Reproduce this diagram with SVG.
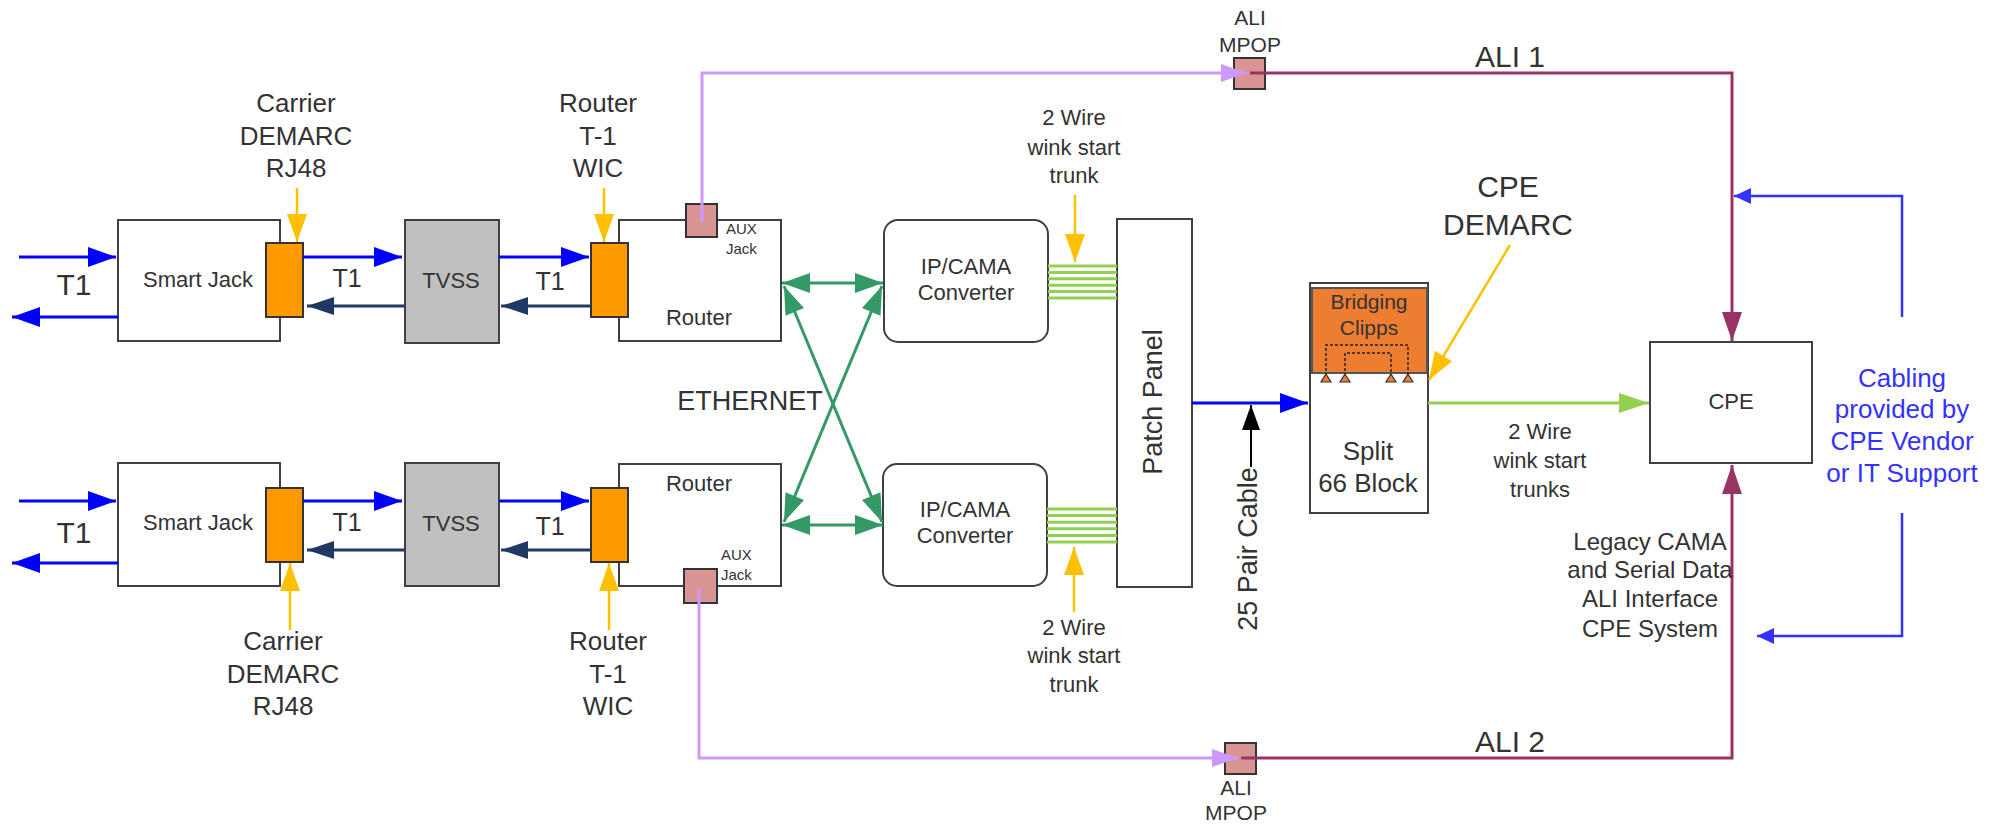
<svg xmlns="http://www.w3.org/2000/svg" width="1999" height="826" viewBox="0 0 1999 826">
<style>
text { font-family: "Liberation Sans", Arial, sans-serif; fill: #333; text-anchor: middle; }
.box { fill: #fff; stroke: #404040; stroke-width: 2; }
.org { fill: #FF9900; stroke: #333; stroke-width: 2; }
.jack { fill: #D99594; stroke: #333; stroke-width: 2; }
.tvss { fill: #C0C0C0; stroke: #404040; stroke-width: 2; }
.conv { fill: #fff; stroke: #404040; stroke-width: 2; }
.blue { stroke: #0000FF; stroke-width: 3; fill: none; marker-end: url(#mBlue); }
.navy { stroke: #1F3864; stroke-width: 3; fill: none; marker-end: url(#mNavy); }
.yel { stroke: #FFC000; stroke-width: 2.5; fill: none; marker-end: url(#mYel); }
.eth { stroke: #339966; stroke-width: 3; fill: none; marker-start: url(#mGrn); marker-end: url(#mGrn); }
.trunk { stroke: #92D050; stroke-width: 3; }
.lav { stroke: #CC99FF; stroke-width: 3; fill: none; marker-end: url(#mLav); }
.mar { stroke: #993366; stroke-width: 3; fill: none; marker-end: url(#mMar); }
.cab { stroke: #3333FF; stroke-width: 2.5; fill: none; marker-end: url(#mCab); }
.lg { stroke: #92D050; stroke-width: 3; fill: none; marker-end: url(#mLg); }
.blk { stroke: #000; stroke-width: 2; fill: none; marker-end: url(#mBlk); }
.s22 { font-size: 22px; }
.s26 { font-size: 26px; }
.s30 { font-size: 30px; }
.aux { font-size: 15px; text-anchor: start; }
.bluetxt { fill: #3333FF; font-size: 26px; }
</style>
<defs>
<marker id="mBlue" markerUnits="userSpaceOnUse" markerWidth="28" markerHeight="20" refX="28" refY="10" orient="auto" overflow="visible"><path d="M0,0 L28,10 L0,20 z" fill="#0000FF"/></marker>
<marker id="mNavy" markerUnits="userSpaceOnUse" markerWidth="27" markerHeight="18" refX="27" refY="9" orient="auto" overflow="visible"><path d="M0,0 L27,9 L0,18 z" fill="#1F3864"/></marker>
<marker id="mYel" markerUnits="userSpaceOnUse" markerWidth="28" markerHeight="20" refX="28" refY="10" orient="auto" overflow="visible"><path d="M0,0 L28,10 L0,20 z" fill="#FFC000"/></marker>
<marker id="mGrn" markerUnits="userSpaceOnUse" markerWidth="28" markerHeight="20" refX="28" refY="10" orient="auto-start-reverse" overflow="visible"><path d="M0,0 L28,10 L0,20 z" fill="#339966"/></marker>
<marker id="mLav" markerUnits="userSpaceOnUse" markerWidth="26" markerHeight="18" refX="26" refY="9" orient="auto" overflow="visible"><path d="M0,0 L26,9 L0,18 z" fill="#CC99FF"/></marker>
<marker id="mMar" markerUnits="userSpaceOnUse" markerWidth="29" markerHeight="20" refX="29" refY="10" orient="auto" overflow="visible"><path d="M0,0 L29,10 L0,20 z" fill="#993366"/></marker>
<marker id="mCab" markerUnits="userSpaceOnUse" markerWidth="17" markerHeight="16" refX="17" refY="8" orient="auto" overflow="visible"><path d="M0,0 L17,8 L0,16 z" fill="#3333FF"/></marker>
<marker id="mLg" markerUnits="userSpaceOnUse" markerWidth="30" markerHeight="20" refX="30" refY="10" orient="auto" overflow="visible"><path d="M0,0 L30,10 L0,20 z" fill="#92D050"/></marker>
<marker id="mBlk" markerUnits="userSpaceOnUse" markerWidth="25" markerHeight="18" refX="25" refY="9" orient="auto" overflow="visible"><path d="M0,0 L25,9 L0,18 z" fill="#000"/></marker>
</defs>
<rect width="1999" height="826" fill="#fff"/>

<!-- Row A nodes -->
<g id="smartjack-a"><rect class="box" x="118" y="220" width="162" height="121"/><text class="s22" x="198" y="287">Smart Jack</text></g>
<g id="demarc-a"><rect class="org" x="266" y="243" width="37" height="74"/></g>
<g id="tvss-a"><rect class="tvss" x="405" y="220" width="94" height="123"/><text class="s22" x="451" y="288">TVSS</text></g>
<g id="router-a"><rect class="box" x="619" y="220" width="162" height="121"/><text class="s22" x="699" y="325">Router</text></g>
<g id="wic-a"><rect class="org" x="591" y="243" width="37" height="74"/></g>
<g id="aux-a"><rect class="jack" x="686" y="204" width="31" height="33"/><text class="aux" x="726" y="234">AUX</text><text class="aux" x="726" y="254">Jack</text></g>

<!-- Row B nodes -->
<g id="smartjack-b"><rect class="box" x="118" y="463" width="162" height="123"/><text class="s22" x="198" y="530">Smart Jack</text></g>
<g id="demarc-b"><rect class="org" x="266" y="488" width="37" height="74"/></g>
<g id="tvss-b"><rect class="tvss" x="405" y="463" width="94" height="123"/><text class="s22" x="451" y="531">TVSS</text></g>
<g id="router-b"><rect class="box" x="619" y="464" width="162" height="122"/><text class="s22" x="699" y="491">Router</text></g>
<g id="wic-b"><rect class="org" x="591" y="488" width="37" height="74"/></g>
<g id="aux-b"><rect class="jack" x="684" y="569" width="33" height="34"/><text class="aux" x="721" y="560">AUX</text><text class="aux" x="721" y="580">Jack</text></g>

<!-- Converters, patch panel -->
<g id="conv-a"><rect class="conv" x="884" y="220" width="164" height="122" rx="14"/><text class="s22" x="966" y="274">IP/CAMA</text><text class="s22" x="966" y="300">Converter</text></g>
<g id="conv-b"><rect class="conv" x="883" y="464" width="164" height="122" rx="14"/><text class="s22" x="965" y="517">IP/CAMA</text><text class="s22" x="965" y="543">Converter</text></g>
<g id="patch"><rect class="box" x="1117" y="219" width="75" height="368"/><text font-size="27" transform="rotate(-90 1162 402)" x="1162" y="402">Patch Panel</text></g>

<!-- MPOPs -->
<g id="mpop-a"><rect class="jack" x="1234" y="58" width="31" height="31"/><text font-size="21" x="1250" y="25">ALI</text><text font-size="21" x="1250" y="52">MPOP</text></g>
<g id="mpop-b"><rect class="jack" x="1225" y="743" width="31" height="31"/><text font-size="21" x="1236" y="795">ALI</text><text font-size="21" x="1236" y="820">MPOP</text></g>

<!-- Split 66 block -->
<g id="split66">
<rect class="box" x="1310" y="283" width="118" height="230"/>
<rect x="1312" y="288" width="115" height="85" fill="#ED7D31" stroke="#555" stroke-width="2"/>
<text font-size="21" x="1369" y="309">Bridging</text><text font-size="21" x="1369" y="335">Clipps</text>
<path d="M1326,376 V345 H1408 V376 M1345,376 V353 H1391 V376" fill="none" stroke="#222" stroke-width="1.5" stroke-dasharray="3 2"/>
<g fill="#ED7D31" stroke="#333" stroke-width="1.2"><path d="M1326,374 L1331,382 L1321,382 z"/><path d="M1345,374 L1350,382 L1340,382 z"/><path d="M1391,374 L1396,382 L1386,382 z"/><path d="M1408,374 L1413,382 L1403,382 z"/></g>
<text class="s26" x="1368" y="460">Split</text><text class="s26" x="1368" y="492">66 Block</text>
</g>

<g id="cpe"><rect class="box" x="1650" y="342" width="162" height="121"/><text class="s22" x="1731" y="409">CPE</text></g>

<!-- Connectors -->
<g id="connectors">
<line class="blue" x1="19" y1="257" x2="116" y2="257"/>
<line class="blue" x1="118" y1="317" x2="12" y2="317"/>
<line class="blue" x1="303" y1="257" x2="402" y2="257"/>
<line class="navy" x1="405" y1="306" x2="307" y2="306"/>
<line class="blue" x1="499" y1="257" x2="589" y2="257"/>
<line class="navy" x1="591" y1="306" x2="501" y2="306"/>
<line class="yel" x1="297" y1="188" x2="297" y2="242"/>
<line class="yel" x1="604" y1="188" x2="604" y2="242"/>

<line class="blue" x1="19" y1="501" x2="116" y2="501"/>
<line class="blue" x1="118" y1="563" x2="12" y2="563"/>
<line class="blue" x1="303" y1="501" x2="402" y2="501"/>
<line class="navy" x1="405" y1="550" x2="307" y2="550"/>
<line class="blue" x1="499" y1="501" x2="589" y2="501"/>
<line class="navy" x1="591" y1="550" x2="501" y2="550"/>
<line class="yel" x1="290" y1="630" x2="290" y2="563"/>
<line class="yel" x1="609" y1="630" x2="609" y2="563"/>

<line class="eth" x1="782" y1="283" x2="883" y2="283"/>
<line class="eth" x1="782" y1="525" x2="883" y2="525"/>
<line class="eth" x1="784" y1="286" x2="882" y2="522"/>
<line class="eth" x1="882" y1="286" x2="784" y2="522"/>

<g class="trunk">
<line x1="1048" y1="266" x2="1117" y2="266"/><line x1="1048" y1="272.4" x2="1117" y2="272.4"/><line x1="1048" y1="278.8" x2="1117" y2="278.8"/><line x1="1048" y1="285.2" x2="1117" y2="285.2"/><line x1="1048" y1="291.6" x2="1117" y2="291.6"/><line x1="1048" y1="298" x2="1117" y2="298"/>
<line x1="1047" y1="509" x2="1117" y2="509"/><line x1="1047" y1="515.6" x2="1117" y2="515.6"/><line x1="1047" y1="522.2" x2="1117" y2="522.2"/><line x1="1047" y1="528.8" x2="1117" y2="528.8"/><line x1="1047" y1="535.4" x2="1117" y2="535.4"/><line x1="1047" y1="542" x2="1117" y2="542"/>
</g>
<line class="yel" x1="1075" y1="195" x2="1075" y2="262"/>
<line class="yel" x1="1074" y1="612" x2="1074" y2="547"/>

<line class="blue" x1="1192" y1="403" x2="1308" y2="403"/>
<line class="blk" x1="1251" y1="467" x2="1251" y2="405"/>

<path class="lav" d="M702,222 V73 H1247"/>
<path class="lav" d="M699,588 V758 H1238"/>
<path class="mar" d="M1250,73 H1732 V341"/>
<path class="mar" d="M1241,758 H1732 V465"/>

<line class="yel" x1="1510" y1="245" x2="1429" y2="380"/>
<line class="lg" x1="1428" y1="403" x2="1649" y2="403"/>
<path class="cab" d="M1902,317 V196 H1734"/>
<path class="cab" d="M1902,513 V636 H1757"/>
</g>

<!-- Labels -->
<g id="labels">
<text class="s30" x="74" y="295">T1</text>
<text class="s30" x="74" y="543">T1</text>
<text font-size="25" x="347" y="287">T1</text>
<text font-size="25" x="550" y="290">T1</text>
<text font-size="25" x="347" y="531">T1</text>
<text font-size="25" x="550" y="535">T1</text>
<text class="s26" x="296" y="112">Carrier</text><text class="s26" x="296" y="145">DEMARC</text><text class="s26" x="296" y="177">RJ48</text>
<text class="s26" x="598" y="112">Router</text><text class="s26" x="598" y="145">T-1</text><text class="s26" x="598" y="177">WIC</text>
<text class="s26" x="283" y="650">Carrier</text><text class="s26" x="283" y="683">DEMARC</text><text class="s26" x="283" y="715">RJ48</text>
<text class="s26" x="608" y="650">Router</text><text class="s26" x="608" y="683">T-1</text><text class="s26" x="608" y="715">WIC</text>
<text font-size="27" x="750" y="410">ETHERNET</text>
<text class="s22" x="1074" y="125">2 Wire</text><text class="s22" x="1074" y="155">wink start</text><text class="s22" x="1074" y="183">trunk</text>
<text class="s22" x="1074" y="635">2 Wire</text><text class="s22" x="1074" y="663">wink start</text><text class="s22" x="1074" y="692">trunk</text>
<text font-size="27" transform="rotate(-90 1257 549)" x="1257" y="549">25 Pair Cable</text>
<text class="s30" x="1510" y="67">ALI 1</text>
<text class="s30" x="1510" y="752">ALI 2</text>
<text class="s30" x="1508" y="197">CPE</text><text class="s30" x="1508" y="235">DEMARC</text>
<text class="s22" x="1540" y="439">2 Wire</text><text class="s22" x="1540" y="468">wink start</text><text class="s22" x="1540" y="497">trunks</text>
<text font-size="24" x="1650" y="550">Legacy CAMA</text><text font-size="24" x="1650" y="578">and Serial Data</text><text font-size="24" x="1650" y="607">ALI Interface</text><text font-size="24" x="1650" y="637">CPE System</text>
<text class="bluetxt" x="1902" y="387">Cabling</text><text class="bluetxt" x="1902" y="418">provided by</text><text class="bluetxt" x="1902" y="450">CPE Vendor</text><text class="bluetxt" x="1902" y="482">or IT Support</text>
</g>
</svg>
